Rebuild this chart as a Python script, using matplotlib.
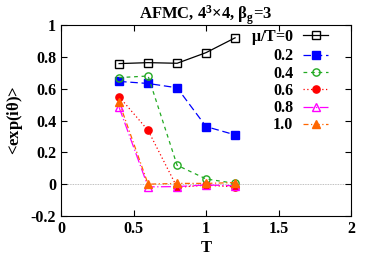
import numpy as np
import matplotlib
matplotlib.use("Agg")
import matplotlib.pyplot as plt

plt.rcParams['font.family'] = ['Liberation Serif', 'DejaVu Serif']
plt.rcParams['font.weight'] = 'bold'
plt.rcParams['axes.titleweight'] = 'bold'
plt.rcParams['axes.labelweight'] = 'bold'
plt.rcParams['font.size'] = 11
plt.rcParams['mathtext.fontset'] = 'custom'
plt.rcParams['mathtext.rm'] = 'Liberation Serif:bold'
plt.rcParams['mathtext.it'] = 'Liberation Serif:bold'
plt.rcParams['mathtext.bf'] = 'Liberation Serif:bold'
plt.rcParams['mathtext.default'] = 'rm'

T = [0.4, 0.6, 0.8, 1.0, 1.2]
mu0 = [0.758, 0.764, 0.760, 0.827, 0.920]
mu02 = [0.646, 0.633, 0.606, 0.362, 0.310]
mu04 = [0.670, 0.680, 0.119, 0.033, 0.005]
mu06 = [0.550, 0.338, -0.020, -0.006, -0.017]
mu08 = [0.483, -0.017, -0.015, -0.005, -0.010]
mu10 = [0.515, 0.000, 0.005, 0.005, 0.010]
labels = [r"$\mu$/T=0", "0.2", "0.4", "0.6", "0.8", "1.0"]

fig = plt.figure(figsize=(3.82, 2.67), dpi=100)
ax = fig.add_axes([0.16, 0.191, 0.759, 0.715])

ax.axhline(0, color='#aaaaaa', lw=0.6, ls=(0, (1, 1)), zorder=0)

ms = 5.2
ax.plot(T, mu0, '-', color='black', marker='s', mfc='none', ms=ms, lw=0.9, label=labels[0])
ax.plot(T, mu02, color='blue', ls=(0, (6, 3)), marker='s', ms=ms, lw=0.9, label=labels[1])
ax.plot(T, mu04, color='#22aa22', ls=(0, (3, 3)), marker='o', mfc='none', ms=ms, lw=0.9, label=labels[2])
ax.plot(T, mu06, color='red', ls=(0, (1, 2)), marker='o', ms=ms, lw=0.9, label=labels[3])
ax.plot(T, mu08, color='magenta', ls=(0, (8, 2, 1, 2)), marker='^', mfc='none', ms=ms, lw=0.9, label=labels[4])
ax.plot(T, mu10, color='#ff6600', ls=(0, (4, 2, 1, 2)), marker='^', ms=ms, lw=0.9, label=labels[5])

ax.set_xlim(0, 2)
ax.set_ylim(-0.2, 1)
ax.set_xticks([0, 0.5, 1, 1.5, 2])
ax.set_xticklabels(["0", "0.5", "1", "1.5", "2"])
ax.set_yticks([-0.2, 0, 0.2, 0.4, 0.6, 0.8, 1])
ax.set_yticklabels(["-0.2", "0", "0.2", "0.4", "0.6", "0.8", "1"])
ax.tick_params(direction='in', top=True, right=True, length=4, width=0.8, labelsize=11.5)
for s in ax.spines.values():
    s.set_linewidth(0.8)

ax.set_xlabel("T", fontsize=12, labelpad=2)
ax.set_ylabel(r"<exp(i$\theta$)>", fontsize=12, labelpad=4)
ax.set_title(r"AFMC, 4$^3$×4, $\beta_{\rm g}$=3", fontsize=12, pad=4)

ax.legend(loc='upper right', bbox_to_anchor=(0.955, 1.035), markerfirst=False, frameon=False,
          fontsize=11.5, handlelength=1.6, labelspacing=0.08, borderaxespad=0.2, handletextpad=0.6)

fig.savefig("out.png", dpi=100)
